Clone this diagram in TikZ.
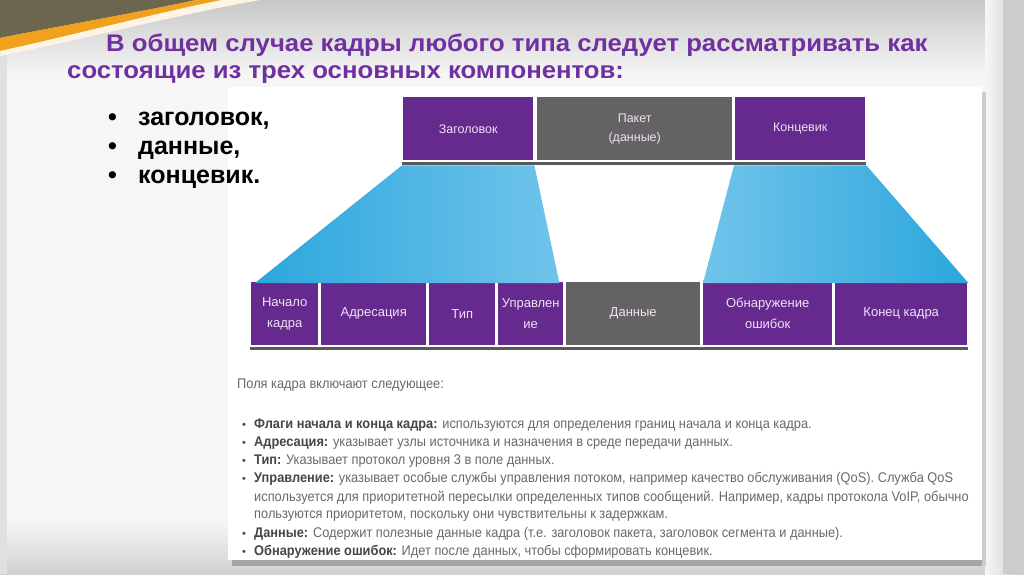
\documentclass[tikz,border=0pt]{standalone}
\usepackage{fontspec}
\usepackage{graphicx}
\setmainfont{Liberation Sans}
\definecolor{ttl}{RGB}{112,48,160}
\definecolor{fpurple}{RGB}{102,42,142}
\definecolor{fgrey}{RGB}{100,98,98}
\definecolor{fblue}{RGB}{44,166,221}
\definecolor{fbluel}{RGB}{112,196,234}
\definecolor{boxtext}{RGB}{236,226,246}
\definecolor{olivec}{RGB}{108,102,78}
\definecolor{orangec}{RGB}{240,162,30}
\definecolor{bgg}{RGB}{200,200,200}
\definecolor{bgm}{RGB}{246,246,246}
\definecolor{txtb}{RGB}{70,70,70}
\definecolor{txtr}{RGB}{105,105,105}
\newcommand{\nar}[1]{\scalebox{0.915}[1]{#1}}
\newcommand{\wid}[1]{\scalebox{1.072}[1]{#1}}
\tikzset{
  ttlstyle/.style={anchor=base west,inner sep=0,text=ttl,font=\fontsize{24}{28}\selectfont\bfseries},
  bulstyle/.style={anchor=base west,inner sep=0,text=black,font=\fontsize{25}{28}\selectfont\bfseries},
  fbox/.style={draw=white,line width=1.4pt,fill=fpurple,text=boxtext,align=center,inner sep=0,anchor=north west,font=\fontsize{12.5}{19}\selectfont},
  gbox/.style={fbox,fill=fgrey},
  desc/.style={anchor=west,inner sep=0,text=txtr,font=\fontsize{14}{17}\selectfont},
  dbul/.style={anchor=center,inner sep=0,text=txtb,font=\fontsize{11}{12}\selectfont},
}
\begin{document}
\begin{tikzpicture}[x=1pt,y=-1pt]
\useasboundingbox (0,0) rectangle (1024,574);
% background
\fill[bgm] (0,0) rectangle (1024,574);
\shade[top color=bgg, bottom color=bgm] (0,0) rectangle (1024,75);
\shade[top color=bgm, bottom color=white!82!black] (0,520) rectangle (1024,574);
\shade[left color=bgm, right color=white!80!black] (985,0) rectangle (1024,574);
\fill[white!80!black] (1003,0) rectangle (1024,574);
\fill[white!88!black] (0,40) rectangle (7,574);
% top-left swoosh
\fill[olivec] (0,0) -- (196,0) .. controls (140,12) and (60,26) .. (0,38) -- cycle;
\fill[orangec] (196,0) .. controls (140,12) and (60,26) .. (0,38) -- (0,51) .. controls (70,36) and (160,12) .. (222,0) -- cycle;
\fill[white!88!orangec] (222,0) .. controls (160,12) and (70,36) .. (0,51) -- (0,56) .. controls (80,40) and (180,14) .. (260,0) -- cycle;
% content panel
\fill[black!35] (232,560) rectangle (986,566);
\fill[black!20] (982,92) rectangle (986,566);
\fill[white] (228,87) rectangle (982,560);
% title
\node[ttlstyle] (t1) at (106,51) {\wid{В общем случае кадры любого типа следует рассматривать как}};
\node[ttlstyle] (t2) at (67,78) {\wid{состоящие из трех основных компонентов:}};
% bullets
\node[bulstyle] (b1d) at (108,125) {•};
\node[bulstyle] (b1) at (138,125) {заголовок,};
\node[bulstyle] (b2d) at (108,154) {•};
\node[bulstyle] (b2) at (138,154) {данные,};
\node[bulstyle] (b3d) at (108,183) {•};
\node[bulstyle] (b3) at (138,183) {концевик.};
% top row
\node[fbox,minimum width=131,minimum height=64] (hdr) at (402,96) {Заголовок};
\node[gbox,minimum width=196,minimum height=64] (pkt) at (536,96) {Пакет\\(данные)};
\node[fbox,minimum width=131,minimum height=64] (trl) at (734,96) {Концевик};
% bottom row
\node[fbox,minimum width=68,minimum height=64,font=\fontsize{13}{21}\selectfont] (fst) at (250,281) {Начало\\кадра};
\node[fbox,minimum width=106,minimum height=64,font=\fontsize{13}{21}\selectfont] (adr) at (320,281) {Адресация};
\node[fbox,minimum width=67,minimum height=64,font=\fontsize{13}{21}\selectfont] (typ) at (428,281) {Тип};
\node[fbox,minimum width=66,minimum height=64,font=\fontsize{13}{21}\selectfont] (ctl) at (497,281) {Управлен\\ие};
\node[gbox,minimum width=135,minimum height=64,font=\fontsize{13}{21}\selectfont] (dat) at (565,281) {Данные};
\node[fbox,minimum width=130,minimum height=64,font=\fontsize{13}{21}\selectfont] (err) at (702,281) {Обнаружение\\ошибок};
\node[fbox,minimum width=133,minimum height=64,font=\fontsize{13}{21}\selectfont] (fen) at (834,281) {Конец кадра};
% shadows under rows
\fill[black!65] ([yshift=-1pt]hdr.south west) rectangle ([yshift=-4pt]trl.south east);
\fill[black!65] ([yshift=-1pt]fst.south west) rectangle ([yshift=-4pt]fen.south east);
% blue trapezoids
\shade[left color=fblue, middle color=fblue, right color=fbluel]
  ([yshift=-4pt]hdr.south west) -- ([yshift=-4pt]hdr.south east) -- ([xshift=-5pt,yshift=-2pt]ctl.north east) -- ([xshift=5pt,yshift=-2pt]fst.north west) -- cycle;
\shade[left color=fbluel, middle color=fblue, right color=fblue]
  ([yshift=-4pt]trl.south west) -- ([yshift=-4pt]trl.south east) -- ([yshift=-2pt]fen.north east) -- ([xshift=1pt,yshift=-2pt]err.north west) -- cycle;
% description
\node[desc] (intro) at (237,385) {\nar{Поля кадра включают следующее:}};
\node[dbul] (d1b) at (244,426) {•};
\node[desc] (d1) at (254,425) {\nar{\textcolor{txtb}{\textbf{Флаги начала и конца кадра:}} используются для определения границ начала и конца кадра.}};
\node[dbul] (d2b) at (244,444) {•};
\node[desc] (d2) at (254,443) {\nar{\textcolor{txtb}{\textbf{Адресация:}} указывает узлы источника и назначения в среде передачи данных.}};
\node[dbul] (d3b) at (244,462) {•};
\node[desc] (d3) at (254,461) {\nar{\textcolor{txtb}{\textbf{Тип:}} Указывает протокол уровня 3 в поле данных.}};
\node[dbul] (d4b) at (244,480) {•};
\node[desc] (d4) at (254,479) {\nar{\textcolor{txtb}{\textbf{Управление:}} указывает особые службы управления потоком, например качество обслуживания (QoS). Служба QoS}};
\node[desc] (d5) at (254,498) {\nar{используется для приоритетной пересылки определенных типов сообщений. Например, кадры протокола VoIP, обычно}};
\node[desc] (d6) at (254,516) {\nar{пользуются приоритетом, поскольку они чувствительны к задержкам.}};
\node[dbul] (d7b) at (244,535) {•};
\node[desc] (d7) at (254,534) {\nar{\textcolor{txtb}{\textbf{Данные:}} Содержит полезные данные кадра (т.е. заголовок пакета, заголовок сегмента и данные).}};
\node[dbul] (d8b) at (244,553) {•};
\node[desc] (d8) at (254,552) {\nar{\textcolor{txtb}{\textbf{Обнаружение ошибок:}} Идет после данных, чтобы сформировать концевик.}};
\end{tikzpicture}
\end{document}
